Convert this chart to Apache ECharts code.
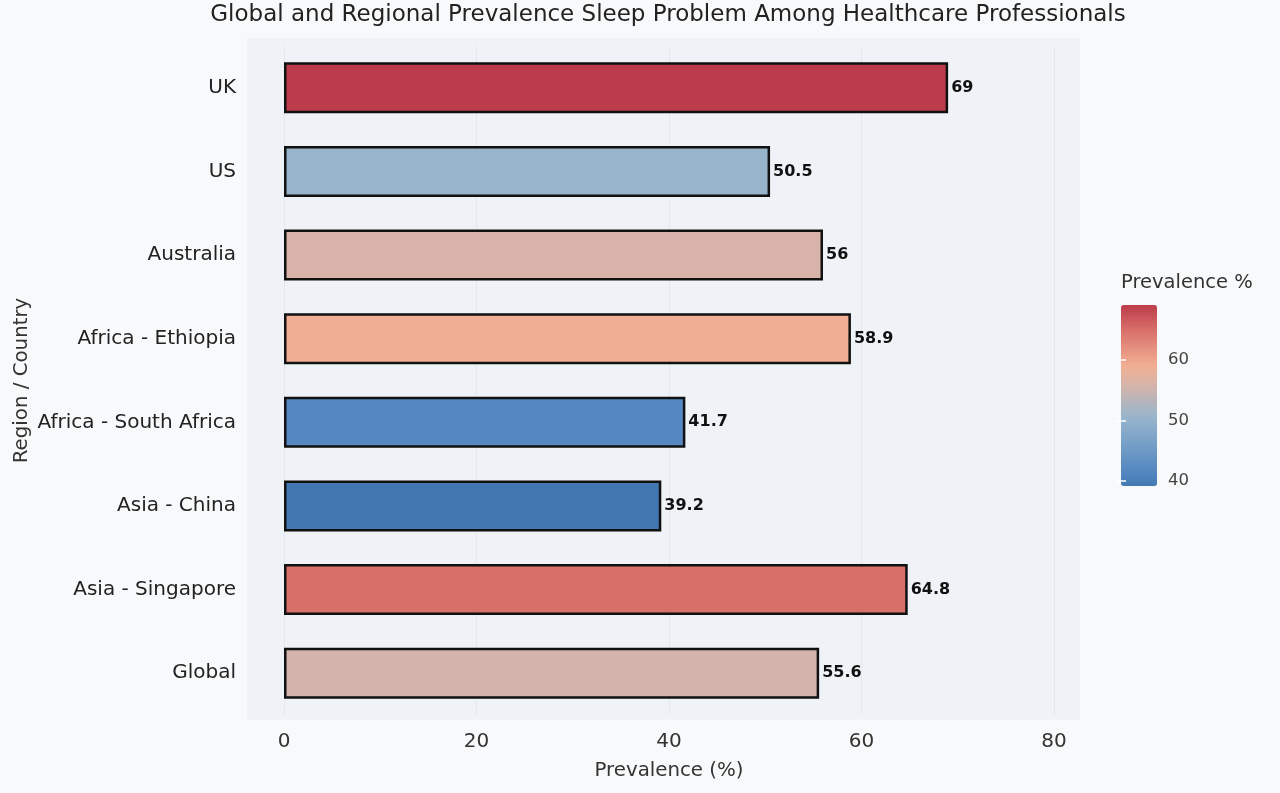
<!DOCTYPE html>
<html>
<head>
<meta charset="utf-8">
<script src="https://cdn.jsdelivr.net/npm/echarts@6/dist/echarts.min.js"></script>
<style>
    html, body {margin: 0; padding: 0; background: #f8f9fa;}
    #chart {width: 1280px; height: 793px;}
</style>
</head>
<body>
<div id="chart"></div>
<script>
    // chart data, top row first
    var regions = ['UK', 'US', 'Australia', 'Africa - Ethiopia', 'Africa - South Africa', 'Asia - China', 'Asia - Singapore', 'Global'];
    var prevalence = [69, 50.5, 56, 58.9, 41.7, 39.2, 64.8, 55.6];
    var xTicks = [0, 20, 40, 60, 80];
    var barTicks = [40, 50, 60];

    // colour scale (fraction of range -> colour)
    var scaleStops = [
        [0, '#4278b2'], [0.084, '#5589c1'], [0.379, '#97b5cc'], [0.55, '#d3b4ab'],
        [0.661, '#f2b094'], [0.859, '#d8706a'], [1, '#bd3c4c']
    ];

    function hex(c) {
        return [parseInt(c.substr(1, 2), 16), parseInt(c.substr(3, 2), 16), parseInt(c.substr(5, 2), 16)];
    }
    function scaleColors(n) {
        var out = [];
        for (var i = 0; i < n; i++) {
            var t = i / (n - 1), k = 1;
            while (k < scaleStops.length - 1 && scaleStops[k][0] < t) k++;
            var a = scaleStops[k - 1], b = scaleStops[k];
            var f = (t - a[0]) / (b[0] - a[0]);
            var ca = hex(a[1]), cb = hex(b[1]);
            out.push('rgb(' + ca.map(function (v, j) { return Math.round(v + (cb[j] - v) * f); }).join(',') + ')');
        }
        return out;
    }

    var lo = Math.min.apply(null, prevalence), hi = Math.max.apply(null, prevalence);
    var seriesData = prevalence.map(function (v, i) { return [v, regions[i]]; });
    var font = '"DejaVu Sans", Verdana, sans-serif';

    var myChart = echarts.init(document.getElementById('chart'));
    myChart.setOption({
        backgroundColor: '#f8f9fa',
        title: {
            text: 'Global and Regional Prevalence Sleep Problem Among Healthcare Professionals',
            left: 663, top: -1, textAlign: 'center',
            textStyle: {fontFamily: font, fontSize: 23, fontWeight: 'normal', color: '#222'}
        },
        graphic: [{
            type: 'rect', z: -10, silent: true,
            shape: {x: 247, y: 38, width: 833, height: 682},
            style: {fill: '#eff3f7'}
        }, {
            type: 'text', left: 1121, top: 273,
            style: {text: 'Prevalence %', fontFamily: font, fontSize: 19.5, fill: '#333'}
        }],
        grid: [
            {left: 284, right: 226, top: 46, bottom: 78},
            {left: 1121, top: 305, width: 36, height: 181}
        ],
        xAxis: [{
            gridIndex: 0, type: 'value', min: 0, max: 80, interval: 20,
            name: 'Prevalence (%)', nameLocation: 'middle', nameGap: 46,
            nameTextStyle: {fontFamily: font, fontSize: 19.8, color: '#333'},
            axisLine: {show: false}, axisTick: {show: false},
            axisLabel: {fontFamily: font, fontSize: 20, color: '#333', margin: 17},
            splitLine: {lineStyle: {color: '#e3e8ee', width: 1}}
        }, {
            gridIndex: 1, type: 'value', show: false, min: 0, max: 1
        }],
        yAxis: [{
            gridIndex: 0, type: 'category', data: regions, inverse: true,
            name: 'Region / Country', nameLocation: 'middle', nameGap: 252, nameMoveOverlap: false,
            nameTextStyle: {fontFamily: font, fontSize: 19.8, color: '#333'},
            axisLine: {show: false}, axisTick: {show: false},
            axisLabel: {fontFamily: font, fontSize: 20, color: '#222', margin: 48, padding: [3, 0, 0, 0]},
            splitLine: {show: false}
        }, {
            gridIndex: 1, type: 'value', min: lo, max: hi, position: 'right', z: 10,
            axisLine: {show: false}, splitLine: {show: false},
            axisTick: {show: true, inside: true, length: 5, lineStyle: {color: '#fff', width: 1.5},
                customValues: barTicks},
            axisLabel: {fontFamily: font, fontSize: 16.5, color: '#444', margin: 11,
                customValues: barTicks}
        }, {
            gridIndex: 1, type: 'value', min: lo, max: hi, position: 'left', z: 10,
            axisLine: {show: false}, splitLine: {show: false},
            axisTick: {show: true, inside: true, length: 5, lineStyle: {color: '#fff', width: 1.5},
                customValues: barTicks},
            axisLabel: {show: false}
        }],
        visualMap: {
            type: 'continuous', min: lo, max: hi, dimension: 0, seriesIndex: 0,
            left: 1121, top: 305, itemWidth: 36, itemHeight: 181, padding: 0, z: 1,
            calculable: false, inRange: {color: scaleColors(31)}
        },
        series: [{
            type: 'bar', xAxisIndex: 0, yAxisIndex: 0,
            data: seriesData, barWidth: 51,
            itemStyle: {borderColor: '#111', borderWidth: 2.5},
            label: {
                show: true, position: 'right', distance: 3,
                fontFamily: font, fontSize: 16, fontWeight: 'bold', color: '#111',
                formatter: function (p) { return p.value[0]; }
            }
        }]
    });
    window.onresize = function () {
        myChart.resize();
    };
</script>
</body>
</html>
